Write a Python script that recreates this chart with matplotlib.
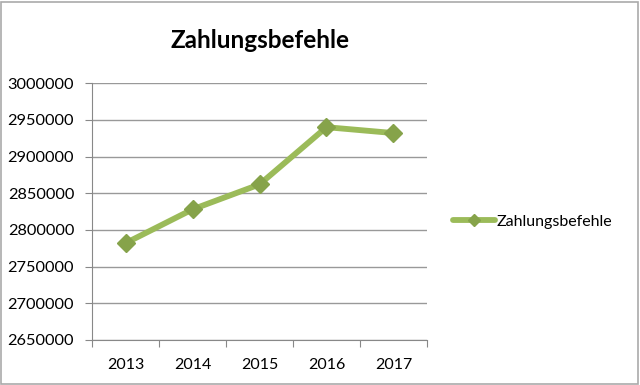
import matplotlib.pyplot as plt
from matplotlib.patches import Rectangle

jahre = ["2013", "2014", "2015", "2016", "2017"]
zahlungsbefehle = [2782000, 2828000, 2862000, 2940000, 2932000]
y_ticks = [2650000, 2700000, 2750000, 2800000, 2850000, 2900000, 2950000, 3000000]

plt.rcParams['font.family'] = ['Lato', 'DejaVu Sans']

fig = plt.figure(figsize=(6.4, 3.85), dpi=100)
ax = fig.add_axes([0.144, 0.117, 0.523, 0.667])

x = list(range(len(jahre)))
ax.plot(x, zahlungsbefehle, color='#9bbb59', linewidth=4.2, marker='D',
        markersize=9, markerfacecolor='#86a34a', markeredgecolor='#86a34a',
        label='Zahlungsbefehle', solid_capstyle='round')

ax.set_xlim(-0.5, len(jahre) - 0.5)
ax.set_ylim(y_ticks[0], y_ticks[-1])
ax.set_yticks(y_ticks)
ax.set_yticklabels([str(v) for v in y_ticks])
ax.set_xticks([i - 0.5 for i in range(len(jahre) + 1)])
ax.set_xticklabels([])
ax.set_xticks(x, minor=True)
ax.set_xticklabels(jahre, minor=True)
ax.tick_params(axis='x', which='minor', length=0, pad=13, labelsize=11.5)
ax.tick_params(axis='x', which='major', length=5, color='#888888')
ax.tick_params(axis='y', length=5, color='#888888', labelsize=11.8, pad=8)

ax.grid(axis='y', color='#999999', linewidth=1)
ax.set_axisbelow(True)
for s in ['top', 'right']:
    ax.spines[s].set_visible(False)
for s in ['left', 'bottom']:
    ax.spines[s].set_color('#888888')

ax.set_title('Zahlungsbefehle', fontsize=17.5, fontweight='bold', pad=25)

leg = ax.legend(loc='center left', bbox_to_anchor=(1.06, 0.46), frameon=False,
                fontsize=11.5, handlelength=2.6, handletextpad=0.1, borderaxespad=0)
leg.legend_handles[0].set_markersize(6)

fig.patches.append(Rectangle((0.002, 0.003), 0.995, 0.993, transform=fig.transFigure,
                             fill=False, edgecolor='#aaaaaa', linewidth=1.2))

fig.savefig('out.png', dpi=100)
